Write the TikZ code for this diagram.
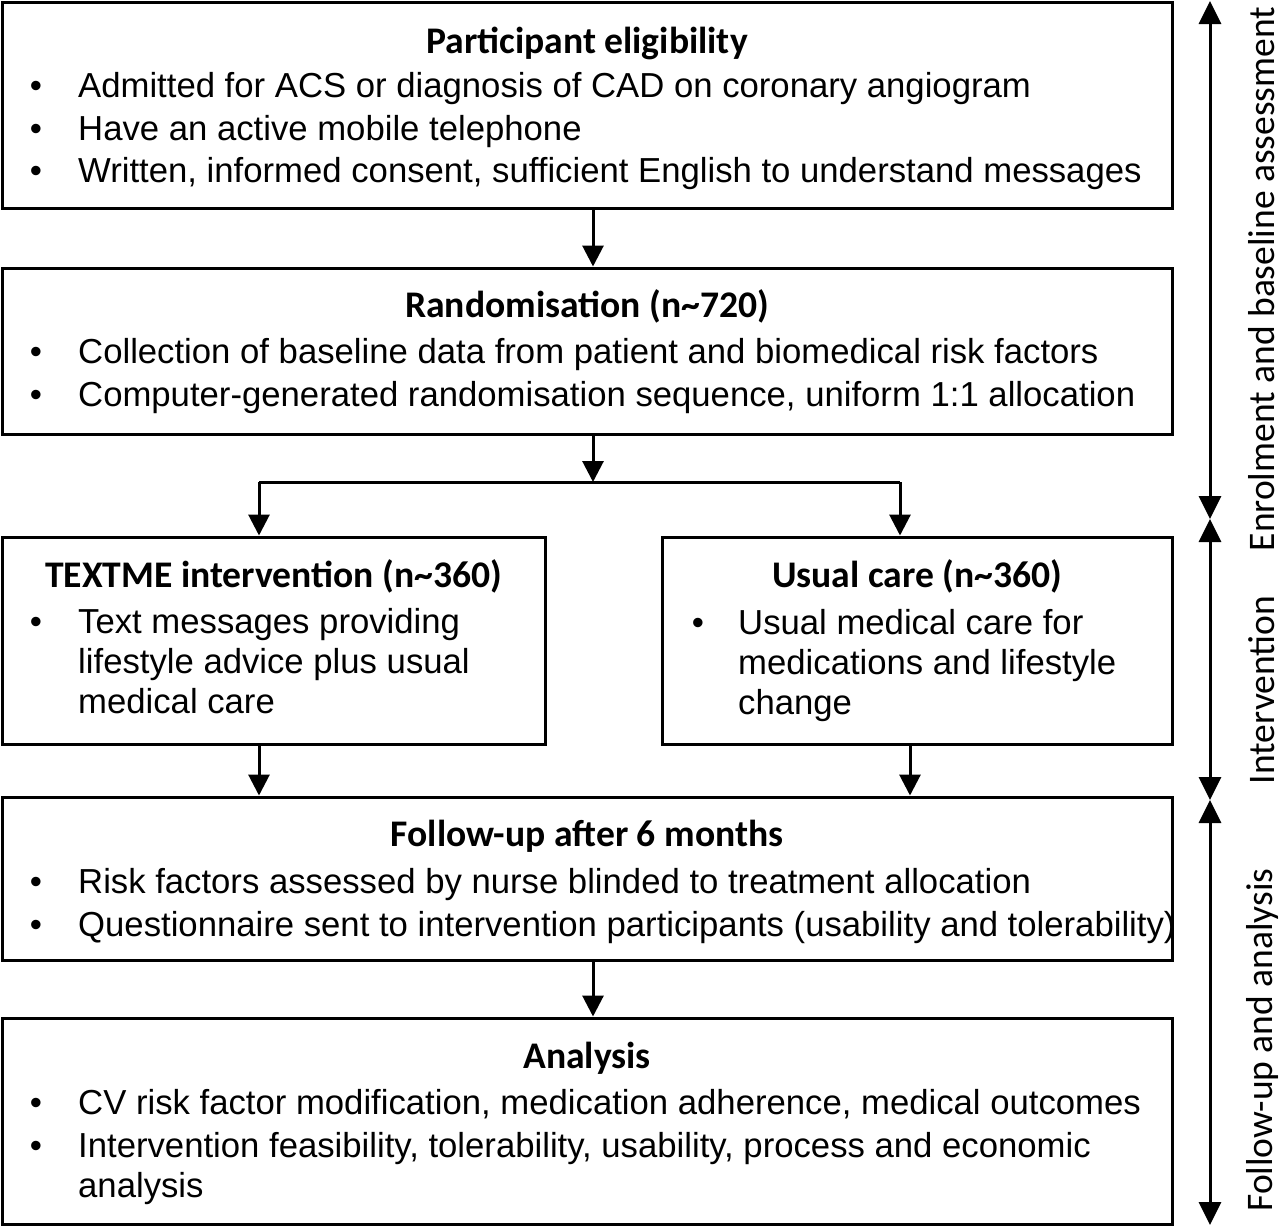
\documentclass[tikz,border=0pt]{standalone}
\usepackage{fontspec}
\setmainfont{Liberation Sans}
\newfontfamily\headfont{Carlito}
\usetikzlibrary{arrows.meta}
\tikzset{
 box/.style={draw, line width=3pt, inner sep=0pt, rectangle},
 head/.style={font=\headfont\bfseries\fontsize{37.6}{44}\selectfont, inner sep=0pt, anchor=base},
 body/.style={font=\fontsize{34.7}{40}\selectfont, inner sep=0pt, anchor=base west},
 bul/.style={font=\fontsize{34.7}{40}\selectfont, inner sep=0pt, anchor=base},
 arr/.style={line width=3pt, -{Triangle[length=21pt,width=21pt]}},
 darr/.style={line width=3pt, {Triangle[length=23pt,width=22pt]}-{Triangle[length=23pt,width=22pt]}},
 side/.style={font=\headfont\fontsize{37.5}{44}\selectfont, inner sep=0pt, rotate=90},
}
\begin{document}
\begin{tikzpicture}[x=1pt,y=-1pt]
\useasboundingbox (0,0) rectangle (1280,1227);
% boxes
\node[box, minimum width=1170pt, minimum height=206pt] (elig) at (587,105) {};
\node[box, minimum width=1170pt, minimum height=166pt] (rand) at (587,351) {};
\node[box, minimum width=543pt, minimum height=207pt] (txt) at (273.5,640.5) {};
\node[box, minimum width=510pt, minimum height=207pt] (usual) at (917,640.5) {};
\node[box, minimum width=1170pt, minimum height=163pt] (foll) at (587,878.5) {};
\node[box, minimum width=1170pt, minimum height=206pt] (anal) at (587,1121) {};
% box 1
\node[head] (h1) at (587,53) {Participant eligibility};
\node[bul] (b11) at (36,97) {•};
\node[body] (l11) at (78,97) {Admitted for ACS or diagnosis of CAD on coronary angiogram};
\node[bul] (b12) at (36,140) {•};
\node[body] (l12) at (78,140) {Have an active mobile telephone};
\node[bul] (b13) at (36,182) {•};
\node[body] (l13) at (78,182) {Written, informed consent, sufficient English to understand messages};
% box 2
\node[head] (h2) at (587,317) {Randomisation (n\textasciitilde720)};
\node[bul] (b21) at (36,363) {•};
\node[body] (l21) at (78,363) {Collection of baseline data from patient and biomedical risk factors};
\node[bul] (b22) at (36,406) {•};
\node[body] (l22) at (78,406) {Computer-generated randomisation sequence, uniform 1:1 allocation};
% box 3
\node[head] (h3) at (273.5,587) {TEXTME intervention (n\textasciitilde360)};
\node[bul] (b31) at (36,633) {•};
\node[body] (l31) at (78,633) {Text messages providing};
\node[body] (l32) at (78,673) {lifestyle advice plus usual};
\node[body] (l33) at (78,713) {medical care};
% box 4
\node[head] (h4) at (917,587) {Usual care (n\textasciitilde360)};
\node[bul] (b41) at (698,634) {•};
\node[body] (l41) at (738,634) {Usual medical care for};
\node[body] (l42) at (738,674) {medications and lifestyle};
\node[body] (l43) at (738,714) {change};
% box 5
\node[head] (h5) at (587,846) {Follow-up after 6 months};
\node[bul] (b51) at (36,893) {•};
\node[body] (l51) at (78,893) {Risk factors assessed by nurse blinded to treatment allocation};
\node[bul] (b52) at (36,936) {•};
\node[body] (l52) at (78,936) {Questionnaire sent to intervention participants (usability and tolerability)};
% box 6
\node[head] (h6) at (587,1068) {Analysis};
\node[bul] (b61) at (36,1114) {•};
\node[body] (l61) at (78,1114) {CV risk factor modification, medication adherence, medical outcomes};
\node[bul] (b62) at (36,1157) {•};
\node[body] (l62) at (78,1157) {Intervention feasibility, tolerability, usability, process and economic};
\node[body] (l63) at (78,1197) {analysis};
% connectors
\coordinate (mx) at (593,0);
\coordinate (split) at (593,482);
\coordinate (sl) at (259,482);
\coordinate (sr) at (900,482);
\coordinate (lx) at (259,0);
\coordinate (rx) at (910,0);
\draw[arr] (elig.south -| mx) -- (rand.north -| mx);
\draw[arr] (rand.south -| mx) -- (split);
\draw[line width=3pt] (sl) -- (sr);
\draw[arr] (sl) -- (sl |- txt.north);
\draw[arr] (sr) -- (sr |- usual.north);
\draw[arr] (txt.south -| lx) -- (foll.north -| lx);
\draw[arr] (usual.south -| rx) -- (foll.north -| rx);
\draw[arr] (foll.south -| mx) -- (anal.north -| mx);
% side phases
\coordinate (t0) at (1210,1);
\coordinate (t1) at (1210,519);
\coordinate (t2) at (1210,800);
\coordinate (t3) at (1210,1225);
\draw[darr] (t0) -- (t1);
\draw[darr] (t1) -- (t2);
\draw[darr] (t2) -- (t3);
\node[side] (s1) at (1262,279) {Enrolment and baseline assessment};
\node[side] (s2) at (1262,690) {Intervention};
\node[side] (s3) at (1262,1040) {Follow-up and analysis};
\end{tikzpicture}
\end{document}
